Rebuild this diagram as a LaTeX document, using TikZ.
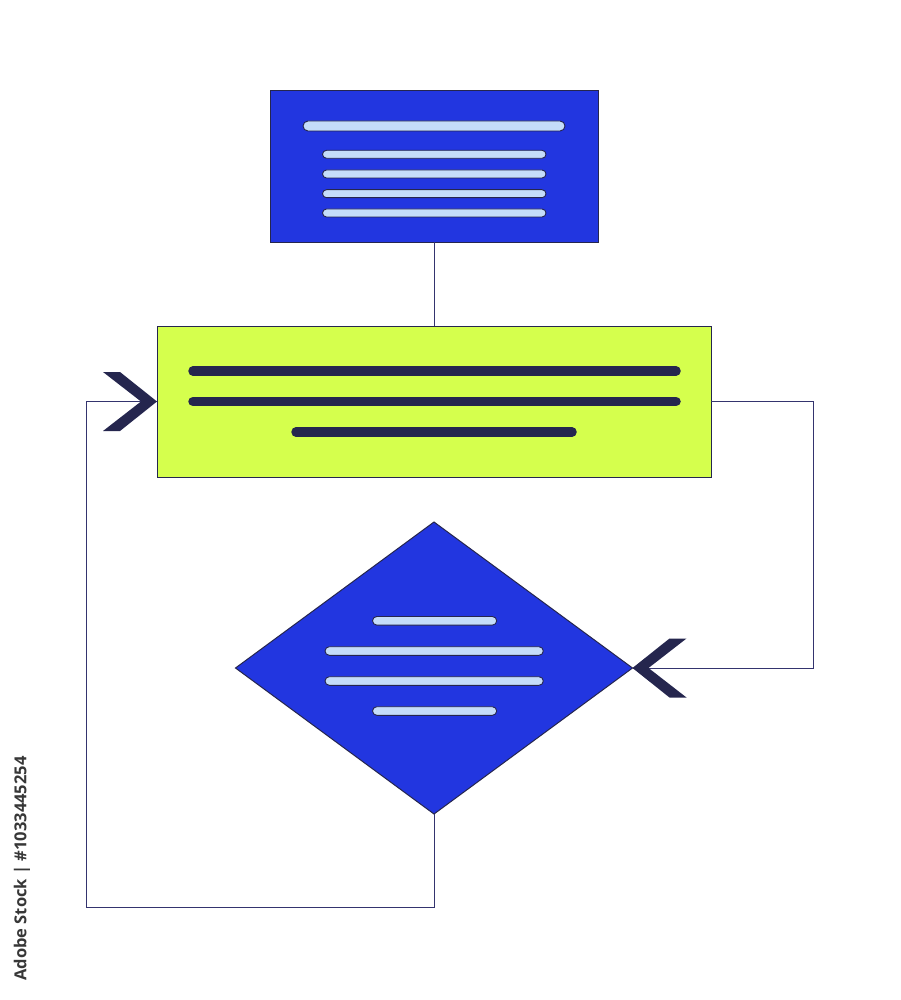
\documentclass[tikz,border=0pt]{standalone}
\usepackage{fontspec}
\newfontfamily\wmfont{Open Sans}
\usetikzlibrary{shapes.geometric}
\definecolor{bluefill}{RGB}{34,54,224}
\definecolor{limefill}{RGB}{213,255,77}
\definecolor{navy}{RGB}{37,38,78}
\definecolor{linecol}{RGB}{52,52,110}
\definecolor{barlight}{RGB}{197,221,250}
\definecolor{wmgray}{RGB}{55,55,55}
\begin{document}
\begin{tikzpicture}[x=1pt,y=-1pt,
  box/.style={draw=navy, line width=1pt, inner sep=0pt, outer sep=0pt},
  conn/.style={draw=linecol, line width=1pt},
  lightbar/.style={draw=navy, fill=barlight, line width=0.9pt},
  darkbar/.style={draw=navy, line width=9.5pt, line cap=round},
  chevron/.pic={\fill[navy] (0,0) -- (-37,-29.5) -- (-54,-29.5) -- (-16,0) -- (-54,29.5) -- (-37,29.5) -- cycle;}
]
\useasboundingbox[fill=white] (0,0) rectangle (900,1000);

% nodes
\node[box, fill=bluefill, minimum width=328pt, minimum height=151pt] (top) at (434,166.5) {};
\node[box, fill=limefill, minimum width=554pt, minimum height=151pt] (proc) at (434,401.5) {};
\node[box, diamond, fill=bluefill, minimum width=397pt, minimum height=292pt] (dec) at (434,668) {};

% bars in top box
\draw[lightbar, rounded corners=5pt] (303,121) rectangle (565,131);
\foreach \yy in {154.3,174,193.7,213}{
  \draw[lightbar, rounded corners=4pt] (322.5,\yy-4) rectangle (546,\yy+4);
}

% bars in green box
\draw[darkbar] (193,371) -- (676,371);
\draw[darkbar] (193,401.5) -- (676,401.5);
\draw[darkbar] (296,432) -- (572,432);

% bars in diamond
\draw[lightbar, rounded corners=4.3pt] (372.5,616.5) rectangle (496.7,625.1);
\draw[lightbar, rounded corners=4.3pt] (325,646.7) rectangle (543.3,655.3);
\draw[lightbar, rounded corners=4.3pt] (325,676.7) rectangle (543.3,685.3);
\draw[lightbar, rounded corners=4.3pt] (372.5,706.7) rectangle (496.7,715.3);

% connectors
\coordinate (lb) at (86.5,907.7);
\coordinate (rr) at (813,668);
\draw[conn] (top.south) -- (proc.north);
\draw[conn] (dec.south) |- (lb) |- (proc.west);
\draw[conn] (proc.east) -| (rr) -- (dec.east);

% arrowheads
\pic at (proc.west) {chevron};
\pic[xscale=-1] at (dec.east) {chevron};

% side text
\node[rotate=90, text=wmgray, font=\wmfont\bfseries\fontsize{16.5}{19}\selectfont, inner sep=0pt] (wm) at (22,868.5) {Adobe Stock | \#1033445254};
\end{tikzpicture}
\end{document}
